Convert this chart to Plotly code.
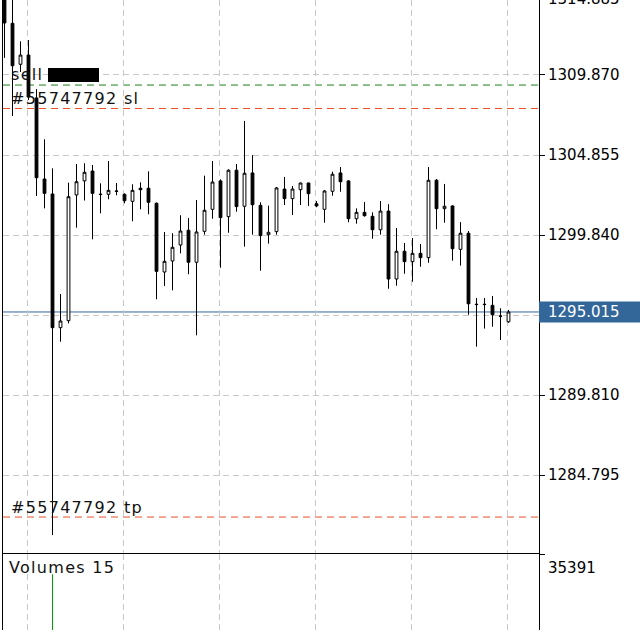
import plotly.graph_objects as go

# ---------------- data ----------------
candle_index = list(range(64))
opens = [1315.50, 1313.11, 1310.54, 1311.12, 1308.43, 1303.35, 1302.41, 1294.03, 1294.47, 1302.35,
         1303.23, 1303.85, 1302.40, 1302.39, 1302.60, 1302.39, 1301.95, 1302.77, 1302.77, 1301.83,
         1297.52, 1298.21, 1299.21, 1300.14, 1298.13, 1300.07, 1301.45, 1303.23, 1300.99, 1303.90,
         1301.64, 1303.73, 1301.70, 1299.86, 1300.05, 1302.72, 1302.12, 1302.68, 1303.10, 1301.80,
         1301.45, 1302.58, 1303.73, 1303.23, 1300.86, 1301.26, 1301.01, 1300.17, 1301.34, 1297.08,
         1298.82, 1298.17, 1298.69, 1298.42, 1303.27, 1301.49, 1301.66, 1298.94, 1299.95, 1295.50,
         1295.50, 1295.43, 1294.76, 1294.40]
highs = [1316.00, 1315.20, 1311.98, 1312.06, 1308.99, 1305.84, 1304.02, 1296.14, 1303.12, 1304.29,
         1304.34, 1304.23, 1303.08, 1304.48, 1303.10, 1302.45, 1303.02, 1303.14, 1303.83, 1301.88,
         1300.03, 1299.95, 1301.08, 1300.91, 1302.03, 1303.56, 1304.48, 1303.33, 1303.96, 1304.29,
         1306.99, 1304.85, 1301.89, 1301.68, 1302.85, 1303.48, 1302.91, 1303.12, 1303.12, 1301.97,
         1302.66, 1303.81, 1304.10, 1303.27, 1301.51, 1301.91, 1301.26, 1301.97, 1301.77, 1300.28,
         1299.34, 1299.65, 1299.28, 1304.10, 1303.35, 1303.04, 1301.70, 1300.65, 1300.09, 1295.89,
         1295.89, 1296.02, 1295.25, 1295.14]
lows = [1310.94, 1307.30, 1310.06, 1308.30, 1302.28, 1301.51, 1281.03, 1293.15, 1294.30, 1300.30,
        1302.00, 1299.57, 1301.20, 1302.08, 1302.33, 1301.83, 1300.70, 1301.45, 1301.14, 1295.81,
        1296.64, 1296.37, 1298.69, 1297.38, 1293.55, 1299.86, 1300.86, 1297.79, 1299.98, 1301.30,
        1299.11, 1299.86, 1297.60, 1299.30, 1299.86, 1301.72, 1301.09, 1301.72, 1301.66, 1301.58,
        1300.61, 1302.30, 1302.55, 1300.64, 1300.55, 1300.99, 1299.61, 1299.86, 1296.47, 1296.66,
        1297.41, 1296.91, 1297.85, 1298.10, 1300.20, 1300.61, 1298.23, 1297.92, 1294.84, 1292.84,
        1293.97, 1294.09, 1293.26, 1294.34]
closes = [1313.13, 1310.45, 1311.12, 1308.49, 1303.43, 1302.45, 1294.03, 1294.45, 1302.24, 1303.18,
          1303.77, 1302.45, 1302.38, 1302.64, 1302.58, 1301.99, 1302.64, 1302.68, 1301.89, 1297.56,
          1298.19, 1299.07, 1300.09, 1298.13, 1300.03, 1301.39, 1303.16, 1300.93, 1303.90, 1301.62,
          1303.71, 1301.74, 1299.80, 1300.01, 1302.79, 1302.12, 1302.72, 1303.10, 1302.43, 1301.66,
          1302.60, 1303.65, 1303.18, 1300.86, 1301.26, 1301.05, 1300.17, 1301.34, 1297.08, 1298.82,
          1298.17, 1298.69, 1298.42, 1303.27, 1301.49, 1301.64, 1298.98, 1299.95, 1295.53, 1295.48,
          1295.48, 1294.84, 1294.75, 1295.015]
volumes = [9200, 11800, 6400, 8100, 14200, 9800, 30500, 12400, 13900, 7600,
           5200, 6900, 4100, 4800, 3600, 3900, 5100, 3300, 5600, 11200,
           8700, 7400, 6200, 6800, 12100, 7900, 8400, 9100, 8800, 7300,
           10400, 8200, 7100, 4600, 6600, 5400, 4700, 3800, 4200, 2900,
           5300, 5900, 4400, 7200, 4300, 3500, 4900, 5200, 9600, 7700,
           4800, 5300, 3700, 10900, 7400, 5600, 6900, 5800, 10300, 6100,
           4400, 4200, 3600, 15]

price_ticks = [1284.795, 1289.810, 1294.825, 1299.840, 1304.855, 1309.870]
# the 1294.825 label is hidden behind the current-price box in the reference
price_tick_labels = ["1284.795", "1289.810", "", "1299.840", "1304.855", "1309.870"]
top_cut_tick_label = "1314.885"   # only its lower edge shows at the top of the chart
volume_tick = 35391
volume_tick_label = "35391"

order_ticket = "#55747792"
entry_price = 1309.24
sl_price = 1307.77
tp_price = 1282.16
current_price = 1295.015
volumes_label = "Volumes 15"

# ---------------- styles ----------------
FONT = "DejaVu Sans"
GRID = "#c8c8c8"
GREEN = "#1a7f1a"
RED = "#e8512a"
BLUE = "#336699"

x_range = [-0.1875, 66.8125]
y_range = [1279.906, 1314.571]
vol_range = [17000, 35391]
grid_x = [2.85 + 12 * j for j in range(6)]


def spaced(t, ls=1.3):
    return '<span style="letter-spacing:%spx">%s</span>' % (ls, t)


vol_colors = ["#00a000" if i == 0 or volumes[i] > volumes[i - 1] else "#e00000"
              for i in range(len(volumes))]

fig = go.Figure()
fig.add_trace(go.Candlestick(
    x=candle_index, open=opens, high=highs, low=lows, close=closes,
    increasing=dict(line=dict(color="black", width=1), fillcolor="white"),
    decreasing=dict(line=dict(color="black", width=1), fillcolor="black"),
    whiskerwidth=0, showlegend=False, hoverinfo="skip",
    xaxis="x", yaxis="y"))
fig.add_trace(go.Bar(
    x=candle_index, y=volumes, width=0.125,
    marker=dict(color=vol_colors, line=dict(width=0)),
    showlegend=False, hoverinfo="skip", xaxis="x2", yaxis="y2"))

shapes = []
for val, col in [(entry_price, GREEN), (sl_price, RED), (tp_price, RED)]:
    shapes.append(dict(type="line", xref="x domain", x0=0, x1=1, yref="y", y0=val, y1=val,
                       line=dict(color=col, width=1, dash="7px,5px"), layer="below"))
shapes.append(dict(type="line", xref="x domain", x0=0, x1=1, yref="y",
                   y0=current_price, y1=current_price,
                   line=dict(color=BLUE, width=1), layer="below"))
# price box on the axis
shapes.append(dict(type="rect", xref="paper", x0=1.0, x1=1.3, yref="y",
                   ysizemode="pixel", yanchor=current_price, y0=-10.5, y1=10.5,
                   fillcolor=BLUE, line=dict(width=0), layer="above"))
# redaction block after "sell"
shapes.append(dict(type="rect", xref="paper", xsizemode="pixel", xanchor=0, x0=45, x1=96,
                   yref="y", ysizemode="pixel", yanchor=entry_price, y0=3, y1=17,
                   fillcolor="black", line=dict(width=0), layer="above"))

lab_font = dict(family=FONT, size=16, color="#111111")
tick_font = dict(family=FONT, size=15, color="black")
annotations = [
    dict(text=spaced("sell"), xref="paper", x=0, xanchor="left", xshift=6,
         yref="y", y=entry_price, yanchor="bottom", yshift=-1, showarrow=False, font=lab_font),
    dict(text=spaced(order_ticket + " sl"), xref="paper", x=0, xanchor="left", xshift=6,
         yref="y", y=sl_price, yanchor="bottom", yshift=-2, showarrow=False, font=lab_font),
    dict(text=spaced(order_ticket + " tp"), xref="paper", x=0, xanchor="left", xshift=6,
         yref="y", y=tp_price, yanchor="bottom", yshift=-2, showarrow=False, font=lab_font),
    dict(text=spaced(volumes_label), xref="paper", x=0, xanchor="left", xshift=4,
         yref="y2 domain", y=1, yanchor="top", yshift=-2, showarrow=False, font=lab_font),
    dict(text="%.3f" % current_price, xref="paper", x=1, xanchor="left", xshift=7,
         yref="y", y=current_price, yanchor="middle", showarrow=False,
         font=dict(family=FONT, size=15, color="white")),
    dict(text=top_cut_tick_label, xref="paper", x=1, xanchor="left", xshift=7,
         yref="paper", y=1, yanchor="middle", yshift=1, showarrow=False, font=tick_font),
    dict(text=volume_tick_label, xref="paper", x=1, xanchor="left", xshift=7,
         yref="y2 domain", y=1, yanchor="top", yshift=-3, showarrow=False, font=tick_font),
]

main_dom = [1 - 553 / 630, 1]
vol_dom = [0, 76 / 630]

fig.update_layout(
    width=640, height=630,
    margin=dict(l=3, r=101, t=0, b=0),
    paper_bgcolor="white", plot_bgcolor="white",
    font=dict(family=FONT, size=15, color="black"),
    boxgap=0.5,
    shapes=shapes, annotations=annotations,
    xaxis=dict(domain=[0, 1], anchor="y", range=x_range, rangeslider=dict(visible=False),
               tickvals=grid_x, showticklabels=False, ticks="",
               showgrid=True, gridcolor=GRID, griddash="6px,4px", gridwidth=1,
               showline=True, linecolor="black", linewidth=1, mirror=False, zeroline=False),
    xaxis2=dict(domain=[0, 1], anchor="y2", range=x_range, matches="x",
                tickvals=grid_x, showticklabels=False, ticks="",
                showgrid=True, gridcolor=GRID, griddash="6px,4px", gridwidth=1,
                showline=False, zeroline=False),
    yaxis=dict(domain=main_dom, anchor="x", side="right", range=y_range,
               tickvals=price_ticks, ticktext=price_tick_labels,
               ticks="outside", ticklen=5, tickcolor="black",
               showgrid=True, gridcolor=GRID, griddash="6px,4px", gridwidth=1,
               showline=True, linecolor="black", linewidth=1, mirror=True, zeroline=False,
               tickfont=tick_font),
    yaxis2=dict(domain=vol_dom, anchor="x2", side="right", range=vol_range,
                tickvals=[volume_tick], showticklabels=False,
                ticks="outside", ticklen=5, tickcolor="black",
                showgrid=False, showline=True, linecolor="black", linewidth=1, mirror=True,
                zeroline=False),
)

fig.write_html("out.html", config={"displayModeBar": False},
               post_script="document.body.style.margin='0';")
